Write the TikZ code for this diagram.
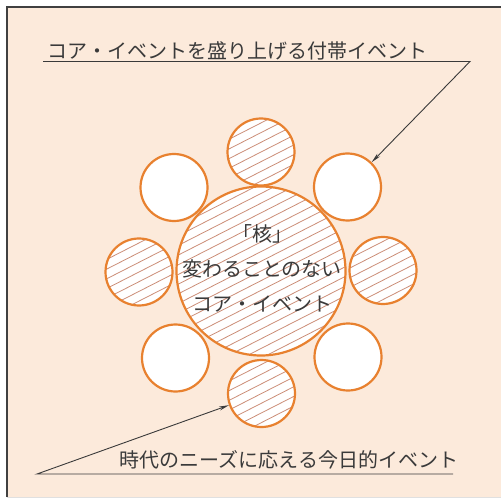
\documentclass[tikz,border=0pt]{standalone}
\usepackage{fontspec}
\setmainfont{Noto Sans CJK JP}
\usetikzlibrary{arrows.meta}
\definecolor{peach}{HTML}{FCEADB}
\definecolor{ring}{HTML}{E8812F}
\definecolor{hatchc}{HTML}{CC8E78}
\definecolor{ink}{HTML}{3A3A3A}
\definecolor{frame}{HTML}{404040}
\tikzset{
  ev/.style={circle, draw=ring, line width=2.2pt, fill=white, minimum size=67pt, inner sep=0pt},
  core/.style={ev, minimum size=169pt},
  hatched/.style={path picture={
    \begin{scope}[shift={(path picture bounding box.center)}]
      \foreach \k in {-11,...,11}{\draw[hatchc, line width=0.8pt] (\k*3.9-98,\k*7.7+50) -- (\k*3.9+98,\k*7.7-50);}
    \end{scope}}},
  lead/.style={draw=ink, line width=0.9pt, -{Stealth[length=10pt,width=4pt]}},
  label/.style={text=ink, font=\fontsize{20pt}{24pt}\selectfont, inner sep=0pt}
}
\begin{document}
\begin{tikzpicture}[x=1pt,y=-1pt]
\useasboundingbox (0,0) rectangle (501,502);
\fill[white] (0,0) rectangle (501,502);
\fill[peach] (7,7) rectangle (501,497);
\draw[frame, line width=1.3pt] (7,497) -- (7,7) -- (501,7);
\draw[black!12, line width=0.8pt] (7,497.5) -- (501,497.5);
% small circles
\node[ev, hatched] (t)  at (261,152) {};
\node[ev]          (ur) at (347.5,187) {};
\node[ev, hatched] (r)  at (383,270.5) {};
\node[ev]          (lr) at (348,357) {};
\node[ev, hatched] (b)  at (261.5,393.5) {};
\node[ev]          (ll) at (175.5,358) {};
\node[ev, hatched] (l)  at (139,272) {};
\node[ev]          (ul) at (174,187.5) {};
% core
\node[core, hatched] (c) at (261,271) {};
\node[label, align=center, font=\fontsize{20pt}{35pt}\selectfont] (ct) at (262,268) {「核」\\変わることのない\\コア・イベント};
% top label
\node[label] (toptext) at (237,51) {コア・イベントを盛り上げる付帯イベント};
\coordinate (tl) at (43,61.5);
\coordinate (tr) at (470,61.5);
\draw[lead] (tl) -- (tr) -- (ur);
% bottom label
\node[label] (bottext) at (289,460) {時代のニーズに応える今日的イベント};
\coordinate (br) at (453,474);
\coordinate (bl) at (37,474);
\draw[lead] (br) -- (bl) -- (b);
\end{tikzpicture}
\end{document}
